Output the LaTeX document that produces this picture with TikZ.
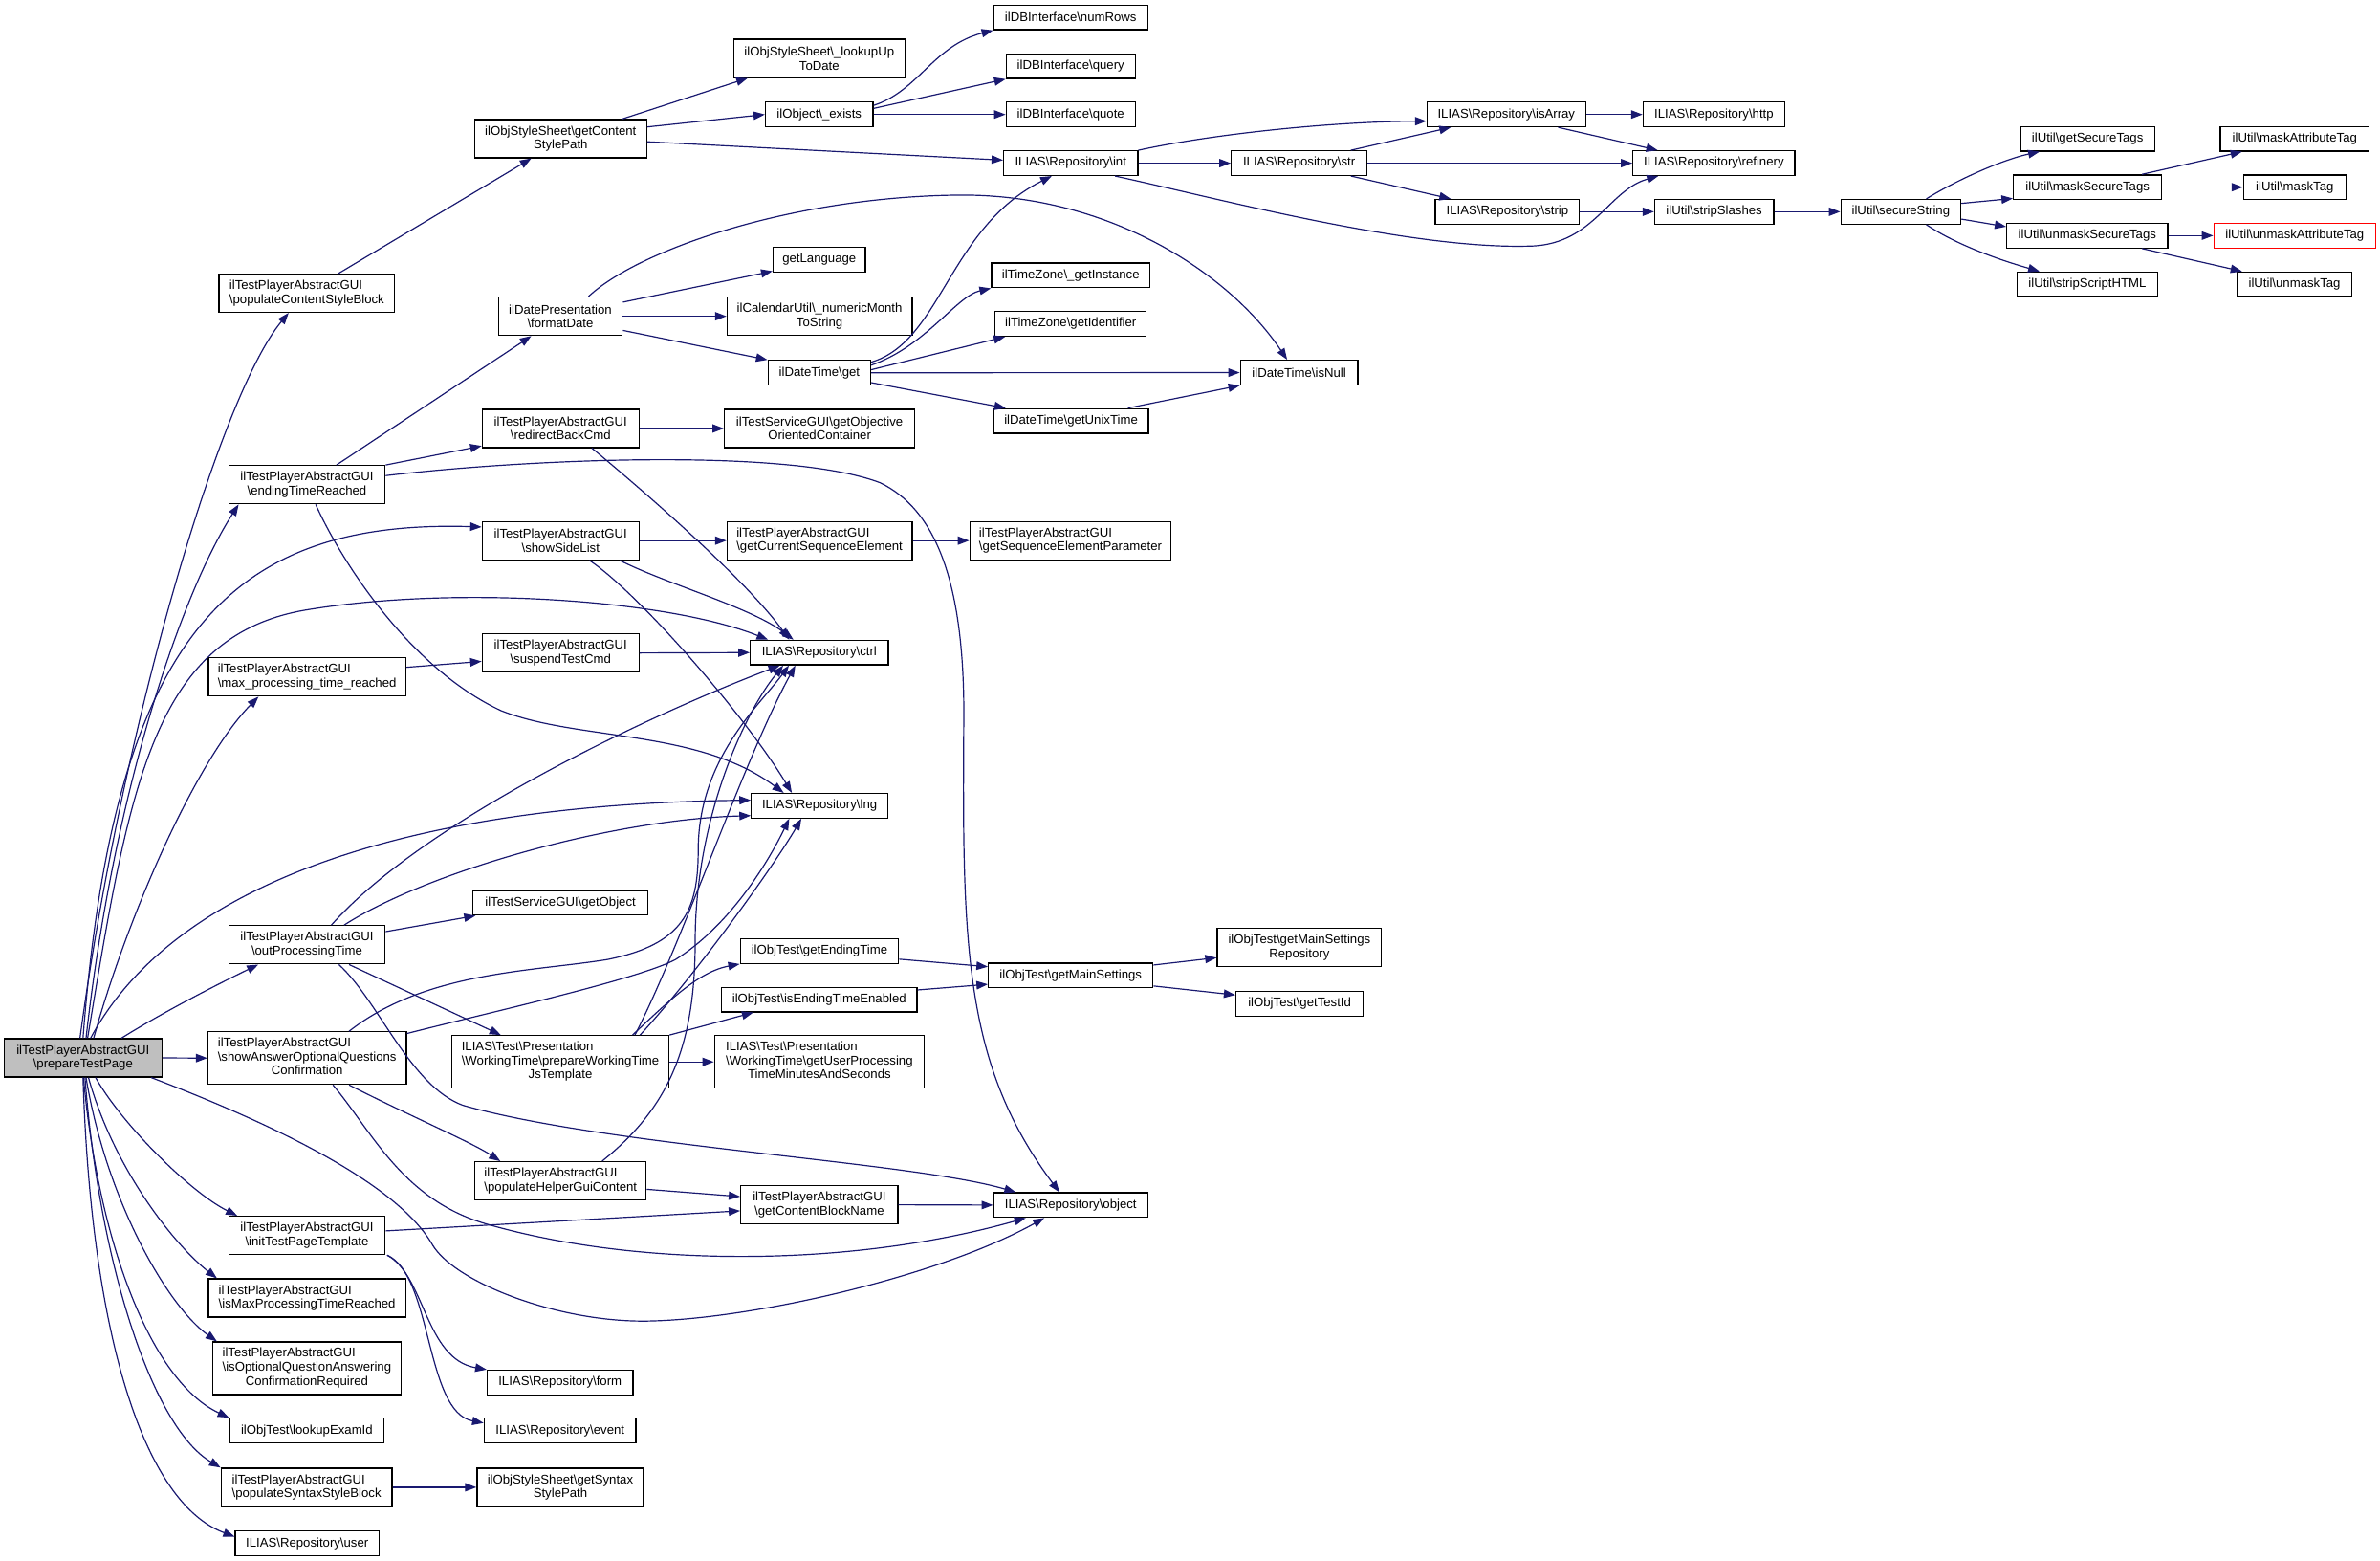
\documentclass[tikz,border=0pt]{standalone}
\usepackage{fontspec}
\newfontfamily\dgfont{Liberation Sans}
\usetikzlibrary{arrows.meta}
\definecolor{edgecol}{HTML}{191970}
\definecolor{startgrey}{HTML}{BFBFBF}
\definecolor{redborder}{HTML}{FF0000}
\newcommand\BSL{\textbackslash}
\newcommand\dgtext{\dgfont\fontsize{8.3pt}{9.2pt}\selectfont}
\tikzset{
  fn/.style={draw=black, line width=0.8pt, fill=white, inner sep=0pt, minimum height=16.2pt, font=\dgtext, anchor=center, align=center},
  fn2/.style={fn, minimum height=25.2pt},
  fn3/.style={fn, minimum height=34.6pt},
  lft/.style={align=left},
  e/.style={draw=edgecol, line width=0.75pt, -{Triangle[length=7.5pt,width=5.5pt]}},
}
\begin{document}
\begin{tikzpicture}[x=1pt,y=-1pt]
\fill[white] (0,0) rectangle (1568,1028);
\useasboundingbox (0,0) rectangle (1568,1028);

% ---------- nodes ----------
\node[fn2, fill=startgrey, minimum width=104pt] (P) at (54.7,696.75) {ilTestPlayerAbstractGUI\\\BSL prepareTestPage};
\node[fn2, lft, minimum width=115.7pt] (pcsb) at (202.15,193.1) {ilTestPlayerAbstractGUI\\\BSL populateContentStyleBlock};
\node[fn2, minimum width=113.3pt] (gcsp) at (369.35,91.35) {ilObjStyleSheet\BSL getContent\\StylePath};
\node[fn2, minimum width=112.9pt] (lutd) at (539.75,38.45) {ilObjStyleSheet\BSL\_lookupUp\\ToDate};
\node[fn, minimum width=70.9pt] (oex) at (539.75,75.4) {ilObject\BSL\_exists};
\node[fn, minimum width=101.6pt] (numrows) at (705.4,11.5) {ilDBInterface\BSL numRows};
\node[fn, minimum width=85pt] (query) at (705.4,43.6) {ilDBInterface\BSL query};
\node[fn, minimum width=85pt] (quote) at (705.4,75.4) {ilDBInterface\BSL quote};
\node[fn, minimum width=88.4pt] (int) at (705.4,107.45) {ILIAS\BSL Repository\BSL int};
\node[fn, minimum width=89.4pt] (str) at (855.9,107.45) {ILIAS\BSL Repository\BSL str};
\node[fn, minimum width=104.4pt] (isarray) at (992.4,75.4) {ILIAS\BSL Repository\BSL isArray};
\node[fn, minimum width=95pt] (strip) at (993.1,139.45) {ILIAS\BSL Repository\BSL strip};
\node[fn, minimum width=93.3pt] (http) at (1129.15,75.4) {ILIAS\BSL Repository\BSL http};
\node[fn, minimum width=106.7pt] (refinery) at (1129.15,107.45) {ILIAS\BSL Repository\BSL refinery};
\node[fn, minimum width=78.4pt] (stripslashes) at (1129.3,139.45) {ilUtil\BSL stripSlashes};
\node[fn, minimum width=79pt] (securestring) at (1252.3,139.45) {ilUtil\BSL secureString};
\node[fn, minimum width=88.4pt] (getsecuretags) at (1375.3,91.4) {ilUtil\BSL getSecureTags};
\node[fn, minimum width=97.6pt] (masksecuretags) at (1375.3,123.3) {ilUtil\BSL maskSecureTags};
\node[fn, minimum width=106pt] (unmasksecuretags) at (1375.1,155.2) {ilUtil\BSL unmaskSecureTags};
\node[fn, minimum width=92.7pt] (stripscripthtml) at (1375.15,187.2) {ilUtil\BSL stripScriptHTML};
\node[fn, minimum width=98pt] (maskattributetag) at (1511.8,91.4) {ilUtil\BSL maskAttributeTag};
\node[fn, minimum width=67.4pt] (masktag) at (1511.8,123.3) {ilUtil\BSL maskTag};
\node[fn, draw=redborder, minimum width=106.6pt] (unmaskattributetag) at (1511.8,155.2) {ilUtil\BSL unmaskAttributeTag};
\node[fn, minimum width=75.7pt] (unmasktag) at (1511.65,187.2) {ilUtil\BSL unmaskTag};
\node[fn, minimum width=60.9pt] (getlanguage) at (539.75,171.1) {getLanguage};
\node[fn2, minimum width=81.7pt] (formatdate) at (369.15,208.3) {ilDatePresentation\\\BSL formatDate};
\node[fn2, minimum width=121.9pt] (nummonth) at (539.95,208.3) {ilCalendarUtil\BSL\_numericMonth\\ToString};
\node[fn, minimum width=67.6pt] (dtget) at (539.8,245.5) {ilDateTime\BSL get};
\node[fn, minimum width=104.4pt] (tzinst) at (705.4,181.4) {ilTimeZone\BSL\_getInstance};
\node[fn, minimum width=99.6pt] (tzid) at (705.4,213.3) {ilTimeZone\BSL getIdentifier};
\node[fn, minimum width=77.4pt] (isnull) at (855.9,245.4) {ilDateTime\BSL isNull};
\node[fn, minimum width=102pt] (unixtime) at (705.6,277.25) {ilDateTime\BSL getUnixTime};
\node[fn2, minimum width=103.3pt] (redirect) at (369.35,282.2) {ilTestPlayerAbstractGUI\\\BSL redirectBackCmd};
\node[fn2, minimum width=125.3pt] (objcont) at (539.95,282.2) {ilTestServiceGUI\BSL getObjective\\OrientedContainer};
\node[fn2, minimum width=103pt] (ending) at (202.2,319.25) {ilTestPlayerAbstractGUI\\\BSL endingTimeReached};
\node[fn2, minimum width=103.3pt] (sidelist) at (369.35,356.05) {ilTestPlayerAbstractGUI\\\BSL showSideList};
\node[fn2, lft, minimum width=121.9pt] (curseq) at (539.95,356.05) {ilTestPlayerAbstractGUI\\\BSL getCurrentSequenceElement};
\node[fn2, lft, minimum width=132.7pt] (seqparam) at (705.25,356.05) {ilTestPlayerAbstractGUI\\\BSL getSequenceElementParameter};
\node[fn2, minimum width=103.3pt] (suspend) at (369.35,430.05) {ilTestPlayerAbstractGUI\\\BSL suspendTestCmd};
\node[fn2, lft, minimum width=130pt] (maxproc) at (202.3,445.85) {ilTestPlayerAbstractGUI\\\BSL max\_processing\_time\_reached};
\node[fn, minimum width=90.9pt] (ctrl) at (539.75,429.8) {ILIAS\BSL Repository\BSL ctrl};
\node[fn, minimum width=89.9pt] (lng) at (539.95,530.7) {ILIAS\BSL Repository\BSL lng};
\node[fn, minimum width=115pt] (getobject) at (369.2,594.6) {ilTestServiceGUI\BSL getObject};
\node[fn2, minimum width=103pt] (outproc) at (202.2,622.3) {ilTestPlayerAbstractGUI\\\BSL outProcessingTime};
\node[fn, minimum width=104.3pt] (endtime) at (539.85,626.45) {ilObjTest\BSL getEndingTime};
\node[fn, minimum width=128.9pt] (endtimeen) at (539.75,658.35) {ilObjTest\BSL isEndingTimeEnabled};
\node[fn, minimum width=108.4pt] (mainset) at (705.4,642.4) {ilObjTest\BSL getMainSettings};
\node[fn2, minimum width=108.3pt] (mainsetrepo) at (856.05,623.9) {ilObjTest\BSL getMainSettings\\Repository};
\node[fn, minimum width=84pt] (testid) at (856.2,661.05) {ilObjTest\BSL getTestId};
\node[fn3, minimum width=130.7pt] (showans) at (202.35,696.9) {\begin{tabular}{@{}l@{}}ilTestPlayerAbstractGUI\\\BSL showAnswerOptionalQuestions\\\multicolumn{1}{@{}c@{}}{Confirmation}\end{tabular}};
\node[fn3, minimum width=143pt] (prepwt) at (369.2,699.4) {\begin{tabular}{@{}l@{}}ILIAS\BSL Test\BSL Presentation\\\BSL WorkingTime\BSL prepareWorkingTime\\\multicolumn{1}{@{}c@{}}{JsTemplate}\end{tabular}};
\node[fn3, minimum width=138.2pt] (userproc) at (539.8,699.4) {\begin{tabular}{@{}l@{}}ILIAS\BSL Test\BSL Presentation\\\BSL WorkingTime\BSL getUserProcessing\\\multicolumn{1}{@{}c@{}}{TimeMinutesAndSeconds}\end{tabular}};
\node[fn2, lft, minimum width=112.7pt] (helper) at (369.35,777.75) {ilTestPlayerAbstractGUI\\\BSL populateHelperGuiContent};
\node[fn2, minimum width=103.6pt] (blockname) at (539.8,793.5) {ilTestPlayerAbstractGUI\\\BSL getContentBlockName};
\node[fn, minimum width=101.6pt] (object) at (705.4,793.7) {ILIAS\BSL Repository\BSL object};
\node[fn2, minimum width=103pt] (inittpl) at (202.2,813.7) {ilTestPlayerAbstractGUI\\\BSL initTestPageTemplate};
\node[fn2, lft, minimum width=130pt] (ismax) at (202.3,854.9) {ilTestPlayerAbstractGUI\\\BSL isMaxProcessingTimeReached};
\node[fn3, minimum width=124.3pt] (isopt) at (202.15,901.15) {\begin{tabular}{@{}l@{}}ilTestPlayerAbstractGUI\\\BSL isOptionalQuestionAnswering\\\multicolumn{1}{@{}c@{}}{ConfirmationRequired}\end{tabular}};
\node[fn, minimum width=101.7pt] (lookupexam) at (202.15,942.2) {ilObjTest\BSL lookupExamId};
\node[fn2, lft, minimum width=112.6pt] (synblock) at (202,979.55) {ilTestPlayerAbstractGUI\\\BSL populateSyntaxStyleBlock};
\node[fn2, minimum width=109.7pt] (synpath) at (369.15,979.55) {ilObjStyleSheet\BSL getSyntax\\StylePath};
\node[fn, minimum width=94.7pt] (user) at (202.35,1016.55) {ILIAS\BSL Repository\BSL user};
\node[fn, minimum width=96pt] (form) at (369,910.55) {ILIAS\BSL Repository\BSL form};
\node[fn, minimum width=100pt] (event) at (369,942.2) {ILIAS\BSL Repository\BSL event};

% ---------- edges ----------
% from prepareTestPage
\draw[e] ([xshift=-2pt]P.north) .. controls (80,480) and (145,260) .. ([xshift=-12pt]pcsb.south);
\draw[e] ([xshift=2pt]P.north) .. controls (75,520) and (120,390) .. ([xshift=-45pt]ending.south);
\draw[e] (P.north) .. controls (75,420) and (150,342) .. ([yshift=9pt]sidelist.west);
\draw[e] ([xshift=3pt]P.north) .. controls (85,520) and (100,420) .. (200,402) .. controls (300,385) and (440,395) .. ([xshift=-33.75pt]ctrl.north);
\draw[e] ([xshift=7pt]P.north) .. controls (85,600) and (130,500) .. ([xshift=-32pt]maxproc.south);
\draw[e] ([xshift=5pt]P.north) .. controls (110,590) and (250,530) .. ([yshift=3.7pt]lng.west);
\draw[e] ([xshift=25.3pt]P.north) .. controls (110,665) and (150,645) .. ([xshift=-32pt]outproc.south);
\draw[e] (P.east) -- (showans.west);
\draw[e] ([xshift=45pt]P.south) .. controls (200,748) and (265,785) .. (285,820) .. controls (300,845) and (370,872) .. (430,870) .. controls (500,868) and (620,840) .. ([xshift=-17.4pt]object.south);
\draw[e] ([xshift=8.3pt]P.south) .. controls (80,740) and (125,785) .. ([xshift=6pt]inittpl.north west);
\draw[e] ([xshift=3.6pt]P.south) .. controls (75,770) and (115,820) .. ([xshift=6pt]ismax.north west);
\draw[e] ([xshift=2pt]P.south) .. controls (70,790) and (110,860) .. ([xshift=3.3pt]isopt.north west);
\draw[e] ([xshift=0.3pt]P.south) .. controls (65,820) and (100,910) .. (lookupexam.north west);
\draw[e] ([xshift=1.3pt]P.south) .. controls (65,830) and (100,940) .. (synblock.north west);
\draw[e] (P.south) .. controls (60,880) and (95,990) .. ([yshift=4.5pt]user.west);

% content style path subtree
\draw[e] ([xshift=20.85pt]pcsb.north) -- ([xshift=-19.35pt]gcsp.south);
\draw[e] ([xshift=40.65pt]gcsp.north) -- ([xshift=9.7pt]lutd.south west);
\draw[e] ([yshift=7.75pt]gcsp.east) -- (oex.west);
\draw[e] ([yshift=-2pt]gcsp.east) -- ([yshift=2pt]int.west);
\draw[e] ([yshift=6pt]oex.east) .. controls (605,60) and (615,30) .. (numrows.south west);
\draw[e] ([yshift=4pt]oex.east) -- (query.south west);
\draw[e] (oex.east) -- (quote.west);
\draw[e] (int.north east) .. controls (800,88) and (880,80) .. ([yshift=-4.4pt]isarray.west);
\draw[e] (int.east) -- (str.west);
\draw[e] ([xshift=29.2pt]int.south) .. controls (800,130) and (930,165) .. (1010,162) .. controls (1050,160) and (1060,125) .. ([xshift=-36.65pt]refinery.south);
\draw[e] ([xshift=-11pt]str.north east) -- ([xshift=16pt]isarray.south west);
\draw[e] (str.east) -- (refinery.west);
\draw[e] ([xshift=-11pt]str.south east) -- ([xshift=10.6pt]strip.north west);
\draw[e] (isarray.east) -- (http.west);
\draw[e] ([xshift=-18.4pt]isarray.south east) -- ([xshift=16.7pt]refinery.north west);
\draw[e] (strip.east) -- (stripslashes.west);
\draw[e] (stripslashes.east) -- (securestring.west);
\draw[e] ([xshift=16.8pt]securestring.north) .. controls (1290,118) and (1320,105) .. ([xshift=13pt]getsecuretags.south west);
\draw[e] ([yshift=5.5pt]securestring.east) -- ([yshift=-7.4pt]masksecuretags.west);
\draw[e] ([yshift=-4.85pt]securestring.east) -- ([yshift=5.9pt]unmasksecuretags.west);
\draw[e] ([xshift=16.8pt]securestring.south) .. controls (1290,162) and (1320,172) .. ([xshift=15.3pt]stripscripthtml.north west);
\draw[e] ([xshift=-13.3pt]masksecuretags.north east) -- ([xshift=14.7pt]maskattributetag.south west);
\draw[e] (masksecuretags.east) -- (masktag.west);
\draw[e] (unmasksecuretags.east) -- (unmaskattributetag.west);
\draw[e] ([xshift=-17.3pt]unmasksecuretags.south east) -- ([xshift=3.7pt]unmasktag.north west);

% endingTimeReached subtree
\draw[e] ([xshift=19.5pt]ending.north) -- ([xshift=-19.15pt]formatdate.south);
\draw[e] (ending.north east) -- ([yshift=1.5pt]redirect.south west);
\draw[e] ([yshift=6pt]ending.east) .. controls (350,302) and (520,295) .. (580,318) .. controls (615,335) and (635,380) .. (635,470) .. controls (634,620) and (634,700) .. ([xshift=-7.4pt]object.north);
\draw[e] ([xshift=5.8pt]ending.south) .. controls (225,370) and (270,440) .. (330,468) .. controls (380,488) and (460,480) .. ([xshift=21.7pt]lng.north west);
\draw[e] (redirect.east) -- (objcont.west);
\draw[e] ([xshift=20.65pt]redirect.south) .. controls (420,320) and (490,380) .. ([xshift=-19.75pt]ctrl.north);
\draw[e] ([xshift=18.55pt]formatdate.north) .. controls (420,165) and (520,130) .. (630,128.5) .. controls (730,127) and (810,180) .. ([xshift=-7.9pt]isnull.north);
\draw[e] ([yshift=-3.7pt]formatdate.north east) -- ([yshift=1pt]getlanguage.south west);
\draw[e] (formatdate.east) -- (nummonth.west);
\draw[e] ([yshift=3.7pt]formatdate.south east) -- (dtget.north west);
\draw[e] ([yshift=7pt]dtget.east) .. controls (620,225) and (625,150) .. ([xshift=-12.5pt]int.south);
\draw[e] ([yshift=5pt]dtget.east) .. controls (610,228) and (630,195) .. (tzinst.south west);
\draw[e] ([yshift=2pt]dtget.east) -- ([xshift=7pt]tzid.south west);
\draw[e] (dtget.east) -- (isnull.west);
\draw[e] ([yshift=2pt]dtget.south east) -- ([xshift=8.4pt]unixtime.north west);
\draw[e] ([xshift=-13.9pt]unixtime.north east) -- (isnull.south west);

% showSideList, suspend
\draw[e] (sidelist.east) -- (curseq.west);
\draw[e] ([xshift=38.95pt]sidelist.south) .. controls (440,385) and (495,400) .. ([xshift=-17pt]ctrl.north);
\draw[e] ([xshift=18.95pt]sidelist.south) .. controls (420,390) and (490,470) .. ([xshift=-18.25pt]lng.north);
\draw[e] (curseq.east) -- (seqparam.west);
\draw[e] ([yshift=6.35pt]maxproc.east) -- ([yshift=-5.55pt]suspend.west);
\draw[e] (suspend.east) -- (ctrl.west);

% outProcessingTime
\draw[e] ([xshift=16.1pt]outproc.north) .. controls (280,540) and (430,470) .. ([xshift=-26pt]ctrl.south);
\draw[e] ([xshift=24.5pt]outproc.north) .. controls (280,575) and (400,540) .. ([yshift=2pt]lng.south west);
\draw[e] ([yshift=8.7pt]outproc.east) -- ([xshift=2pt]getobject.south west);
\draw[e] ([xshift=27.8pt]outproc.south) -- ([xshift=-39.2pt]prepwt.north);
\draw[e] ([xshift=21.1pt]outproc.south) .. controls (250,660) and (270,715) .. (305,728) .. controls (400,755) and (600,765) .. ([xshift=15pt]object.north west);

% showAnswerOptionalQuestionsConfirmation
\draw[e] ([xshift=27.65pt]showans.north) .. controls (280,640) and (350,640) .. (400,632) .. controls (450,622) and (460,600) .. (460,560) .. controls (460,500) and (500,465) .. ([xshift=-20pt]ctrl.south);
\draw[e] ([yshift=-1.5pt]showans.north east) .. controls (330,665) and (420,645) .. (445,632) .. controls (480,610) and (505,570) .. ([xshift=-20pt]lng.south);
\draw[e] ([xshift=27.65pt]showans.south) .. controls (270,735) and (310,752) .. ([xshift=17pt]helper.north west);
\draw[e] ([xshift=17pt]showans.south) .. controls (245,745) and (265,790) .. (320,806) .. controls (420,835) and (560,835) .. ([xshift=21.6pt]object.south west);

% prepareWorkingTimeJsTemplate
\draw[e] (prepwt.east) -- (userproc.west);
\draw[e] ([xshift=47.5pt]prepwt.north) .. controls (440,660) and (460,640) .. (endtime.south west);
\draw[e] (prepwt.north east) -- ([xshift=21.4pt]endtimeen.south west);
\draw[e] ([xshift=49.1pt]prepwt.north) .. controls (450,620) and (490,500) .. ([xshift=-15.75pt]ctrl.south);
\draw[e] ([xshift=52.5pt]prepwt.north) .. controls (460,640) and (510,570) .. ([xshift=-12pt]lng.south);
\draw[e] ([yshift=-5.3pt]endtime.east) -- ([yshift=5.7pt]mainset.west);
\draw[e] ([yshift=6.35pt]endtimeen.east) -- ([yshift=-5.9pt]mainset.west);
\draw[e] ([yshift=6.8pt]mainset.east) -- ([yshift=-6.9pt]mainsetrepo.west);
\draw[e] ([yshift=-7pt]mainset.east) -- ([yshift=5.75pt]testid.west);

% helper, block name, init template
\draw[e] ([yshift=-5.55pt]helper.east) -- ([yshift=5.4pt]blockname.west);
\draw[e] ([xshift=27.35pt]helper.north) .. controls (440,730) and (458,690) .. (458,620) .. controls (458,540) and (490,470) .. ([xshift=-23.75pt]ctrl.south);
\draw[e] (blockname.east) -- (object.west);
\draw[e] ([yshift=3pt]inittpl.east) -- ([yshift=-4pt]blockname.west);
\draw[e] ([xshift=1pt]inittpl.south east) .. controls (280,840) and (280,895) .. (form.north west);
\draw[e] ([xshift=1pt]inittpl.south east) .. controls (285,840) and (280,930) .. ([yshift=5pt]event.west);
\draw[e] (synblock.east) -- (synpath.west);
\end{tikzpicture}
\end{document}
